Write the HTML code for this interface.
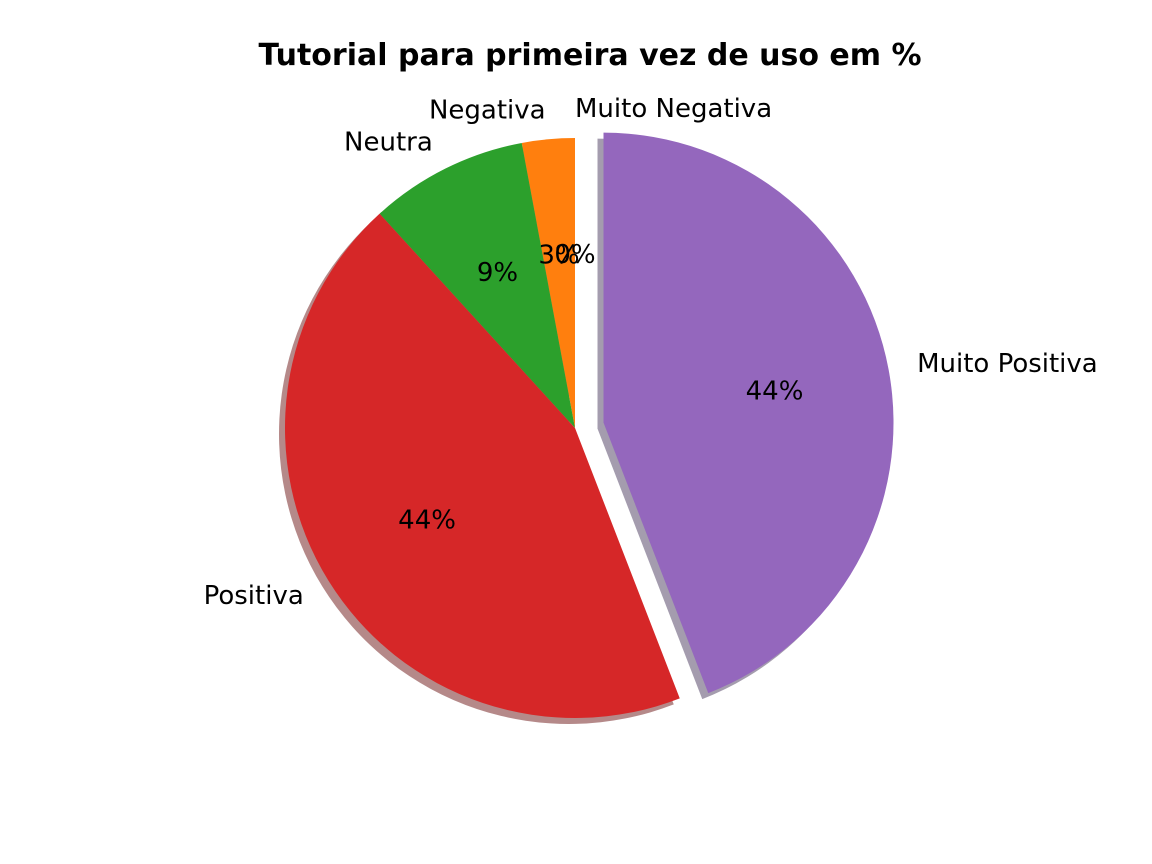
<!DOCTYPE html>
<html><head><meta charset="utf-8"><style>
body{margin:0;background:#fff}
svg{display:block;font-family:"Liberation Sans","DejaVu Sans",sans-serif}
</style></head><body>
<svg id="chart" width="1152" height="864" viewBox="0 0 1152 864">
<rect width="1152" height="864" fill="#fff"/>
<text x="590" y="65" text-anchor="middle" font-size="30" font-weight="bold" font-family="DejaVu Sans, sans-serif">Tutorial para primeira vez de uso em %</text>
<g id="shadows"></g><g id="wedges"></g><g id="labels"></g>
</svg>
<script>
const categories=["Muito Negativa","Negativa","Neutra","Positiva","Muito Positiva"];
const values=[0,1,3,15,15];
const explode=[0,0,0,0,0.1];
const colors=["#1f77b4","#ff7f0e","#2ca02c","#d62728","#9467bd"];
const shadowColors=["#0f3b5a","#7f4007","#165016","#6b1414","#4a3a5e"];
const cx=575,cy=428,R=290;
const NS="http://www.w3.org/2000/svg";
const total=values.reduce((a,b)=>a+b,0);
const sh=document.getElementById('shadows'),wg=document.getElementById('wedges'),lb=document.getElementById('labels');
function pt(x,y,a,r){return [x+r*Math.cos(a*Math.PI/180),y-r*Math.sin(a*Math.PI/180)];}
function arc(x,y,a1,a2){
  if(a2-a1<=0)return "";
  const p1=pt(x,y,a1,R),p2=pt(x,y,a2,R);
  const large=(a2-a1)>180?1:0;
  return `M${x},${y}L${p1[0]},${p1[1]}A${R},${R} 0 ${large} 0 ${p2[0]},${p2[1]}Z`;
}
let start=90;
values.forEach((v,i)=>{
  const sweep=v/total*360,end=start+sweep,mid=(start+end)/2;
  const [ox,oy]=pt(cx,cy,mid,explode[i]*R);
  const s=document.createElementNS(NS,'path');
  s.setAttribute('d',arc(ox-6,oy+6,start,end));
  s.setAttribute('fill',shadowColors[i]);s.setAttribute('opacity','0.5');
  
  
  sh.appendChild(s);
  const w=document.createElementNS(NS,'path');
  w.setAttribute('d',arc(ox,oy,start,end));
  w.setAttribute('fill',colors[i]);
  
  
  wg.appendChild(w);
  const [lx,ly]=pt(ox,oy,mid,1.1*R);
  const t=document.createElementNS(NS,'text');
  t.setAttribute('x',lx);t.setAttribute('y',ly+8);
  t.setAttribute('font-size','26');
  t.setAttribute('font-family','DejaVu Sans, sans-serif');
  t.setAttribute('text-anchor',lx>=cx-0.5?'start':'end');
  t.textContent=categories[i];
  
  
  lb.appendChild(t);
  const [px,py]=pt(ox,oy,mid,0.6*R);
  const p=document.createElementNS(NS,'text');
  p.setAttribute('x',px);p.setAttribute('y',py+9);
  p.setAttribute('font-size','26');
  p.setAttribute('font-family','DejaVu Sans, sans-serif');
  p.setAttribute('text-anchor','middle');
  p.textContent=Math.round(v/total*100)+'%';
  
  
  lb.appendChild(p);
  start=end;
});
</script>
</body></html>
